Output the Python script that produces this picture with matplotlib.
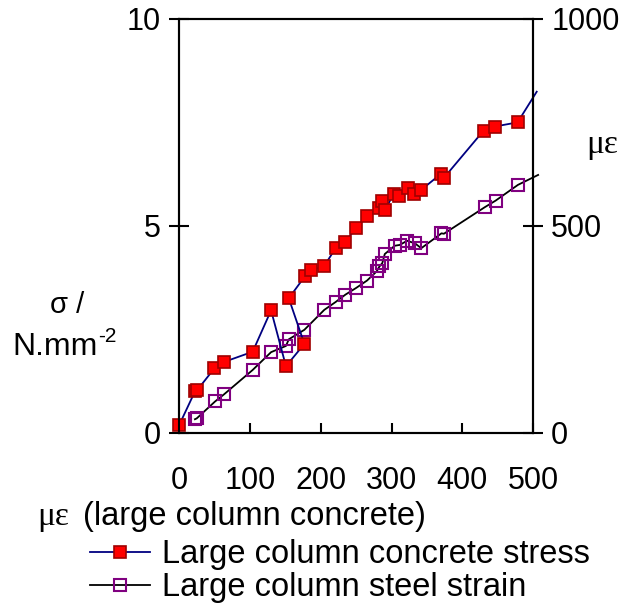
import matplotlib
matplotlib.use("Agg")
import matplotlib.pyplot as plt

plt.rcParams['font.family'] = ['Liberation Sans', 'DejaVu Sans']

# concrete strain (με) and stress (N/mm2), in test order
conc_x = [0, 22.5, 26, 50, 63, 104, 130, 151, 177, 155, 178, 187, 205, 221,
          234.5, 250, 265.5, 282.5, 287, 291, 303, 310, 323, 332, 342, 370,
          374, 430, 446, 478, 505]
conc_stress = [0.18, 1.0, 1.04, 1.56, 1.71, 1.96, 2.96, 1.61, 2.15, 3.25, 3.79,
               3.93, 4.03, 4.46, 4.61, 4.95, 5.24, 5.42, 5.59, 5.38, 5.78, 5.72,
               5.91, 5.77, 5.87, 6.26, 6.16, 7.30, 7.40, 7.50, 8.24]

# steel strain (με) against concrete strain
steel_x = [22.5, 25, 51, 63.5, 104, 130, 151, 155, 177, 205, 221, 235, 250,
           265.5, 279, 283, 287, 290.5, 304.6, 311.7, 322, 333, 342, 370.5, 374,
           431.6, 447, 478.5, 507]
steel_strain = [33, 35, 76, 93, 152, 195, 210, 226, 249, 297, 316, 334, 350,
                368, 390, 402, 410, 432, 452, 454, 464, 458, 446, 482, 481, 545,
                561, 599, 623]

x_ticks = [0, 100, 200, 300, 400, 500]
left_ticks = [0, 5, 10]
right_ticks = [0, 500, 1000]

fig = plt.figure(figsize=(6.37, 6.08), dpi=100)
ax = fig.add_axes([0.281, 0.288, 0.556, 0.681])
ax2 = ax.twinx()
ax.set_zorder(ax2.get_zorder() + 1)
ax.patch.set_visible(False)

ln1, = ax.plot(conc_x, conc_stress, color='#000080', lw=1.3, marker='s', ms=8.5,
               mfc='#ff0000', mec='#a00000', mew=1.2,
               markevery=list(range(len(conc_x) - 1)), clip_on=False,
               label='Large column concrete stress')
ln2, = ax2.plot(steel_x, steel_strain, color='black', lw=1.3, marker='s', ms=8.5,
                mfc='none', mec='#800080', mew=1.5,
                markevery=list(range(len(steel_x) - 1)), clip_on=False,
                label='Large column steel strain')

ax.set_xlim(0, 500)
ax.set_ylim(0, 10)
ax2.set_ylim(0, 1000)
ax.set_xticks(x_ticks)
ax.set_yticks(left_ticks)
ax2.set_yticks(right_ticks)

ax.tick_params(axis='x', direction='in', length=7, width=1.5, labelsize=22, pad=24)
ax.tick_params(axis='y', direction='inout', length=14, width=1.5, labelsize=22, pad=6)
ax2.tick_params(axis='y', direction='inout', length=14, width=1.5, labelsize=22, pad=6)
for a in (ax, ax2):
    for s in a.spines.values():
        s.set_linewidth(1.5)

# left axis label
fig.text(0.105, 0.498, 'σ /', fontsize=21, ha='center', va='center')
fig.text(0.020, 0.429, 'N.mm', fontsize=23, ha='left', va='center')
fig.text(0.154, 0.447, '-2', fontsize=15, ha='left', va='center')
# right axis label
fig.text(0.945, 0.762, 'με', fontsize=24, ha='center', va='center',
         family=['Liberation Serif', 'DejaVu Serif'])
# x axis label
fig.text(0.058, 0.150, 'με', fontsize=24, ha='left', va='center',
         family=['Liberation Serif', 'DejaVu Serif'])
fig.text(0.130, 0.150, '(large column concrete)', fontsize=23.5, ha='left', va='center')

leg = fig.legend(handles=[ln1, ln2], loc='upper left', bbox_to_anchor=(0.141, 0.113),
                 frameon=False, fontsize=23.5, handlelength=1.85, handletextpad=0.37,
                 labelspacing=0.06, borderaxespad=0, borderpad=0, markerscale=1.0)

fig.savefig('out.png', dpi=100)
